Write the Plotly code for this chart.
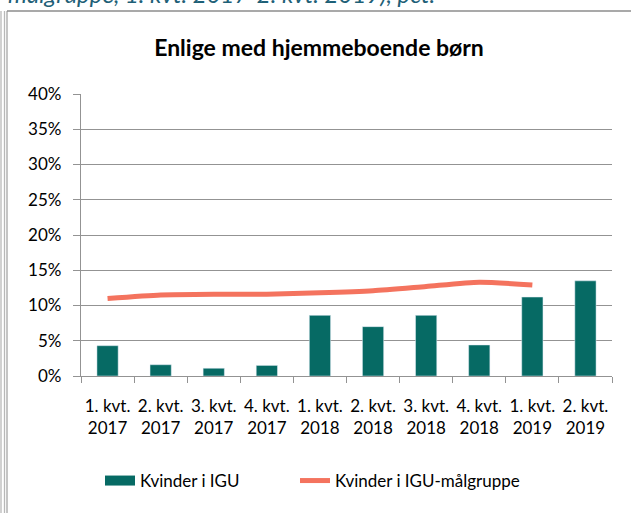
import plotly.graph_objects as go

categories = ["1. kvt.<br>2017", "2. kvt.<br>2017", "3. kvt.<br>2017", "4. kvt.<br>2017",
              "1. kvt.<br>2018", "2. kvt.<br>2018", "3. kvt.<br>2018", "4. kvt.<br>2018",
              "1. kvt.<br>2019", "2. kvt.<br>2019"]
kvinder_igu = [4.3, 1.6, 1.1, 1.5, 8.6, 7.0, 8.6, 4.4, 11.2, 13.5]
kvinder_maalgruppe = [11.0, 11.5, 11.6, 11.6, 11.8, 12.1, 12.7, 13.3, 12.9, None]
y_ticks = [0, 5, 10, 15, 20, 25, 30, 35, 40]
y_ticklabels = [f"{v}%" for v in y_ticks]

BAR = "#066A64"
LINE = "#F4735E"
GRID = "#939393"
FONT = "Lato, sans-serif"

W, H = 631, 513
L, R, T, B = 81, 19, 94, 137
PW, PH = W - L - R, H - T - B


def px(x):
    return (x - L) / PW


def py(y):
    return (H - B - y) / PH


fig = go.Figure()
fig.add_trace(go.Bar(x=categories, y=kvinder_igu, marker_color=BAR, name="Kvinder i IGU",
                     showlegend=False))
fig.add_trace(go.Scatter(x=[None], y=[None], mode="lines", name="Kvinder i IGU",
                         line=dict(color=BAR, width=13), legend="legend"))
fig.add_trace(go.Scatter(x=categories, y=kvinder_maalgruppe, mode="lines",
                         name="Kvinder i IGU-målgruppe", legend="legend2",
                         line=dict(color=LINE, width=5, shape="spline", smoothing=0.6)))

fig.update_layout(
    width=W, height=H,
    margin=dict(l=L, r=R, t=T, b=B, autoexpand=False),
    paper_bgcolor="white", plot_bgcolor="white",
    font=dict(family=FONT, size=17, color="#000000"),
    bargap=0.6,
    title=dict(text="<b>Enlige med hjemmeboende børn</b>", x=319 / W, xref="container",
               xanchor="center", y=1 - 48 / H, yref="container", yanchor="middle",
               font=dict(family=FONT, size=23, color="#000000")),
    legend=dict(orientation="h", x=px(100), xanchor="left", y=py(481), yanchor="middle",
                font=dict(family=FONT, size=17), bgcolor="rgba(0,0,0,0)"),
    legend2=dict(orientation="h", x=px(295), xanchor="left", y=py(481), yanchor="middle",
                 font=dict(family=FONT, size=17), bgcolor="rgba(0,0,0,0)"),
    xaxis=dict(showline=True, linecolor=GRID, linewidth=1.3, ticks="outside",
               tickson="boundaries", ticklen=6, tickcolor=GRID, tickwidth=1.3,
               showgrid=False, ticklabelstandoff=14, tickfont=dict(size=17),
               tickangle=0, automargin=False),
    yaxis=dict(range=[0, 40], tickvals=y_ticks, ticktext=y_ticklabels, showline=True,
               linecolor=GRID, linewidth=1.3, gridcolor=GRID, gridwidth=1.3,
               ticks="outside", ticklen=7, tickcolor=GRID, tickwidth=1.3,
               ticklabelstandoff=8, tickfont=dict(size=17), zeroline=False,
               automargin=False),
)

fig.add_annotation(text="<i>målgruppe, 1. kvt. 2017-2. kvt. 2019), pct.</i>",
                   xref="paper", yref="paper", x=px(6), y=py(-7), xanchor="left",
                   yanchor="middle", showarrow=False,
                   font=dict(family=FONT, size=24, color="#1E6077"))

# frame lines
for xpix, col in [(1, "#B8B8B8"), (4.5, "#B8B8B8"), (7, "#A6A6A6")]:
    fig.add_shape(type="line", xref="paper", yref="paper", x0=px(xpix), x1=px(xpix),
                  y0=py(11), y1=py(H + 5), line=dict(color=col, width=1.3))
fig.add_shape(type="line", xref="paper", yref="paper", x0=px(7), x1=px(W + 5),
              y0=py(11), y1=py(11), line=dict(color="#8C8C8C", width=1.6))

fig.write_html("out.html", config={"displayModeBar": False},
               post_script="document.body.style.margin='0';document.body.style.overflow='hidden';")
